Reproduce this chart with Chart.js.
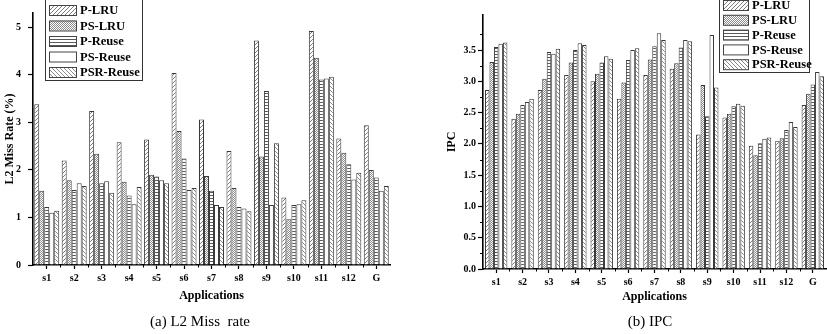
<!DOCTYPE html>
<html>
<head>
<meta charset="utf-8">
<script src="https://cdn.jsdelivr.net/npm/chart.js@4.4.0/dist/chart.umd.min.js"></script>
<style>
  body { margin: 0; background: #fff; }
  #wrap { position: relative; width: 827px; height: 334px; overflow: hidden; }
  canvas { position: absolute; top: 0; }
  .cap { position: absolute; top: 313px; font: 15px "Liberation Serif", serif; color: #000; text-align: center; white-space: pre; }
</style>
</head>
<body>
<div id="wrap">
  <canvas id="chartMiss" width="413" height="334" style="left:0"></canvas>
  <canvas id="chartIpc" width="414" height="334" style="left:413px"></canvas>
  <div class="cap" style="left:0;width:400px">(a) L2 Miss  rate</div>
  <div class="cap" style="left:550px;width:200px">(b) IPC</div>
</div>
<script>
const categories = ['s1', 's2', 's3', 's4', 's5', 's6', 's7', 's8', 's9', 's10', 's11', 's12', 'G'];
const seriesNames = ['P-LRU', 'PS-LRU', 'P-Reuse', 'PS-Reuse', 'PSR-Reuse'];

// L2 miss rate (%)
const missPLRU     = [3.38, 2.20, 3.24, 2.58, 2.64, 4.04, 3.06, 2.40, 4.72, 1.42, 4.92, 2.66, 2.94];
const missPSLRU    = [1.56, 1.78, 2.34, 1.75, 1.90, 2.82, 1.87, 1.62, 2.28, 0.96, 4.36, 2.36, 2.00];
const missPReuse   = [1.22, 1.58, 1.72, 1.46, 1.86, 2.24, 1.56, 1.22, 3.66, 1.26, 3.90, 2.12, 1.84];
const missPSReuse  = [1.10, 1.72, 1.76, 1.28, 1.78, 1.58, 1.26, 1.19, 1.26, 1.28, 3.92, 1.80, 1.56];
const missPSRReuse = [1.14, 1.66, 1.52, 1.64, 1.72, 1.62, 1.22, 1.13, 2.56, 1.36, 3.96, 1.94, 1.66];

// IPC
const ipcPLRU     = [2.86, 2.40, 2.86, 3.10, 3.00, 2.72, 3.10, 3.20, 2.15, 2.42, 1.97, 2.05, 2.62];
const ipcPSLRU    = [3.31, 2.48, 3.04, 3.30, 3.12, 2.98, 3.35, 3.29, 2.94, 2.48, 1.82, 2.09, 2.80];
const ipcPReuse   = [3.55, 2.62, 3.47, 3.50, 3.30, 3.34, 3.56, 3.54, 2.44, 2.60, 2.01, 2.22, 2.95];
const ipcPSReuse  = [3.60, 2.67, 3.44, 3.61, 3.40, 3.50, 3.77, 3.66, 3.74, 2.64, 2.08, 2.35, 3.15];
const ipcPSRReuse = [3.62, 2.72, 3.52, 3.58, 3.36, 3.53, 3.66, 3.64, 2.90, 2.61, 2.10, 2.27, 3.08];

const serif = '"Liberation Serif", "Times New Roman", serif';

// hatch fills, one per series
function makePattern(kind) {
    const c = document.createElement('canvas');
    const s = kind === 'horiz' ? 3 : 4;
    c.width = s; c.height = s;
    const g = c.getContext('2d');
    g.fillStyle = '#fff';
    g.fillRect(0, 0, s, s);
    g.lineWidth = 1;
    if (kind === 'slash' || kind === 'back') {
        g.strokeStyle = kind === 'slash' ? '#7c7c7c' : '#8a8a8a';
        g.beginPath();
        if (kind === 'slash') {
            g.moveTo(0, 4); g.lineTo(4, 0);
            g.moveTo(-1, 1); g.lineTo(1, -1);
            g.moveTo(3, 5); g.lineTo(5, 3);
        } else {
            g.moveTo(0, 0); g.lineTo(4, 4);
            g.moveTo(3, -1); g.lineTo(5, 1);
            g.moveTo(-1, 3); g.lineTo(1, 5);
        }
        g.stroke();
    } else if (kind === 'dots') {
        g.fillStyle = '#8c8c8c';
        for (let x = 0; x < s; x++)
            for (let y = 0; y < s; y++)
                if ((x + y) % 2 === 0) g.fillRect(x, y, 1, 1);
    } else if (kind === 'horiz') {
        g.fillStyle = '#5a5a5a';
        g.fillRect(0, 0, s, 1);
    }
    return g.createPattern(c, 'repeat');
}

const fills = [makePattern('slash'), makePattern('dots'), makePattern('horiz'), '#ffffff', makePattern('back')];

function buildDatasets(lists) {
    return lists.map((vals, i) => ({
        label: seriesNames[i],
        data: vals,
        backgroundColor: fills[i],
        borderColor: '#3a3a3a',
        borderWidth: 1,
        barPercentage: 1.0
    }));
}

// minor ticks and the boxed legend
const decor = {
    id: 'decor',
    afterDraw(chart, args, opts) {
        const ctx = chart.ctx;
        const xs = chart.scales.x, ys = chart.scales.y;
        ctx.save();
        ctx.strokeStyle = '#000';
        ctx.lineWidth = 1;
        const n = chart.data.labels.length;
        const step = (xs.right - xs.left) / n;
        for (let i = 1; i < n; i++) {
            const px = Math.round(xs.left + i * step) + 0.5;
            ctx.beginPath();
            ctx.moveTo(px, xs.top);
            ctx.lineTo(px, xs.top + 2.5);
            ctx.stroke();
        }
        if (opts.minorY) {
            for (let v = opts.minorY; v < ys.max; v += opts.minorY * 2) {
                const py = Math.round(ys.getPixelForValue(v)) + 0.5;
                ctx.beginPath();
                ctx.moveTo(ys.right - 3, py);
                ctx.lineTo(ys.right, py);
                ctx.stroke();
            }
        }
        const L = opts.legend;
        if (L) {
            ctx.fillStyle = '#fff';
            ctx.fillRect(L.x, L.y, L.w, L.h);
            ctx.strokeStyle = '#333';
            ctx.strokeRect(L.x + 0.5, L.y + 0.5, L.w, L.h);
            ctx.font = 'bold 12.5px ' + serif;
            ctx.textBaseline = 'middle';
            chart.data.datasets.forEach((ds, i) => {
                const cy = L.row0 + i * L.dy;
                ctx.fillStyle = ds.backgroundColor;
                ctx.fillRect(L.x + 4, cy - 5, L.sw, 10);
                ctx.strokeStyle = '#444';
                ctx.strokeRect(L.x + 4.5, cy - 4.5, L.sw, 10);
                ctx.fillStyle = '#000';
                ctx.fillText(ds.label, L.x + L.sw + 8, cy + 1);
            });
        }
        ctx.restore();
    }
};

function axisOptions(cfg) {
    return {
        x: {
            grid: { display: true, drawOnChartArea: false, offset: false, tickLength: 4, tickColor: '#000', tickWidth: 1.2 },
            border: { display: true, color: '#000', width: 1.6 },
            ticks: { color: '#000', padding: 3, font: { family: serif, size: 10, weight: 'bold' }, maxRotation: 0, autoSkip: false },
            title: { display: true, text: 'Applications', color: '#000', font: { family: serif, size: 12, weight: 'bold' }, padding: { top: 0, bottom: cfg.xTitlePad } },
            afterFit: s => { s.height = cfg.xHeight; }
        },
        y: {
            min: 0,
            max: cfg.yMax,
            grid: { display: true, drawOnChartArea: false, tickLength: 5, tickColor: '#000', tickWidth: 1.2 },
            border: { display: true, color: '#000', width: 1.6 },
            ticks: { stepSize: cfg.yStep, color: '#000', padding: cfg.yTickPad, font: { family: serif, size: 10, weight: 'bold' }, callback: cfg.yFormat },
            afterBuildTicks: s => { s.ticks = s.ticks.filter(t => Math.abs(t.value / cfg.yStep - Math.round(t.value / cfg.yStep)) < 1e-6); },
            title: { display: true, text: cfg.yTitle, color: '#000', font: { family: serif, size: 12, weight: 'bold' }, padding: { top: cfg.yTitlePad, bottom: 0 } },
            afterFit: s => { s.width = cfg.yWidth; }
        }
    };
}

new Chart(document.getElementById('chartMiss'), {
    type: 'bar',
    data: {
        labels: categories,
        datasets: buildDatasets([missPLRU, missPSLRU, missPReuse, missPSReuse, missPSRReuse])
    },
    options: {
        responsive: false,
        animation: false,
        devicePixelRatio: 1,
        categoryPercentage: 0.91,
        layout: { padding: { left: 0, top: 0, right: 23, bottom: 0 } },
        plugins: {
            legend: { display: false },
            tooltip: { enabled: false },
            decor: { legend: { x: 45, y: -1, w: 97, h: 81, row0: 10, dy: 15.5, sw: 27 } }
        },
        scales: axisOptions({
            xHeight: 69, xTitlePad: 31, yMax: 5.3, yStep: 1, yTickPad: 7, yWidth: 33,
            yTitle: 'L2 Miss Rate (%)', yTitlePad: 3, yFormat: v => String(v)
        })
    },
    plugins: [decor]
});

new Chart(document.getElementById('chartIpc'), {
    type: 'bar',
    data: {
        labels: categories,
        datasets: buildDatasets([ipcPLRU, ipcPSLRU, ipcPReuse, ipcPSReuse, ipcPSRReuse])
    },
    options: {
        responsive: false,
        animation: false,
        devicePixelRatio: 1,
        categoryPercentage: 0.85,
        layout: { padding: { left: 0, top: 15, right: 1, bottom: 0 } },
        plugins: {
            legend: { display: false },
            tooltip: { enabled: false },
            decor: { minorY: 0.25, legend: { x: 306, y: -6, w: 90, h: 78, row0: 5, dy: 14.8, sw: 25 } }
        },
        scales: axisOptions({
            xHeight: 65, xTitlePad: 30, yMax: 4.06, yStep: 0.5, yTickPad: 2, yWidth: 70,
            yTitle: 'IPC', yTitlePad: 32, yFormat: v => v.toFixed(1)
        })
    },
    plugins: [decor]
});
</script>
</body>
</html>
